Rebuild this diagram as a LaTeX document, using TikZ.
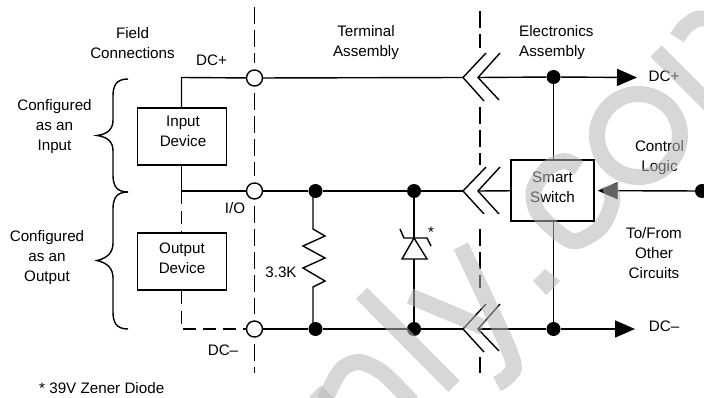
\documentclass[tikz,border=0pt]{standalone}
\usepackage{fontspec}
\setmainfont{Liberation Sans}
\usetikzlibrary{arrows.meta}
\definecolor{wmgray}{gray}{0.714}
\tikzset{
    wire/.style={line width=1.4pt},
    dashwire/.style={line width=1.4pt, dash pattern=on 17pt off 6pt},
    fieldwire/.style={line width=1.4pt, dash pattern=on 13pt off 7pt},
    term/.style={circle, draw, line width=1.4pt, fill=white, minimum size=16pt, inner sep=0pt},
    jdot/.style={circle, fill=black, minimum size=14pt, inner sep=0pt},
    devbox/.style={draw, line width=1.4pt, minimum width=89pt, minimum height=57pt, inner sep=0pt},
    txt/.style={align=center, inner sep=0pt, font=\fontsize{15.2}{20}\selectfont},
    bigtip/.style={-{Triangle[length=20pt,width=17pt]}},
    wmark/.style={line width=16pt, draw=wmgray, opacity=0.55}
}
\begin{document}
\begin{tikzpicture}[x=1pt, y=-1pt]
    \useasboundingbox (0, 0) rectangle (704, 398);
    \node[term] (t1) at (254.5, 78) {};
    \node[term] (t2) at (254.5, 191) {};
    \node[term] (t3) at (254.5, 329) {};
    \node[jdot] (a1) at (553.5, 77) {};
    \node[jdot] (b1) at (315.5, 191) {};
    \node[jdot] (b2) at (414, 191) {};
    \node[jdot] (b3) at (702, 191) {};
    \node[jdot] (c1) at (315.5, 329) {};
    \node[jdot] (c2) at (414, 329) {};
    \node[jdot] (c3) at (553.5, 329) {};
    \node[devbox] (input) at (181.75, 136.5) {};
    \node[devbox] (output) at (181.75, 261.5) {};
    \node[draw, line width=1.4pt, minimum width=83pt, minimum height=61pt, inner sep=0pt] (smart) at (552.5, 190.5) {};
    \coordinate (p1) at (181.5, 77.5);
    \coordinate (p2) at (181.5, 191);
    \coordinate (p3) at (181.5, 329);
    \coordinate (top1) at (254.5, 7);
    \coordinate (bot1) at (254.5, 373);
    \coordinate (u1) at (463, 77.5);
    \coordinate (u2) at (478, 77.5);
    \coordinate (v1) at (463, 191);
    \coordinate (v2) at (478, 191);
    \coordinate (w1) at (463, 329);
    \coordinate (w2) at (478, 329);
    \coordinate (aend) at (637, 77.5);
    \coordinate (cend) at (635, 329);
    \draw [dashwire, shorten >=6pt] (top1) to (t1);
    \draw [dashwire, shorten <=6pt, shorten >=6pt] (t1) to (t2);
    \draw [dashwire, shorten <=6pt, shorten >=6pt] (t2) to (t3);
    \draw [dashwire, shorten <=6pt] (t3) to (bot1);
    \draw [dashwire] (480, 11) to (480, 48);
    \draw [dashwire] (480, 107) to (480, 165);
    \draw [dashwire] (480, 229) to (480, 288);
    \draw [dashwire] (480, 357) to (480, 373);
    \draw [wire] (input.north -| p1) to (p1) to (t1);
    \draw [wire] (input.south -| p1) to (p2) to (t2);
    \draw [fieldwire] (p2) to (output.north -| p1);
    \draw [fieldwire] (output.south -| p1) to (p3) to (t3);
    \draw [wire] (t1) to (u1);
    \draw [wire] (t2) to (b1);
    \draw [wire] (b1) to (b2);
    \draw [wire] (b2) to (v1);
    \draw [wire] (t3) to (c1);
    \draw [wire] (c1) to (c2);
    \draw [wire] (c2) to (w1);
    \draw [wire] (486, 53) -- (u1) -- (484, 101);
    \draw [wire] (500, 53) -- (u2) -- (499, 100);
    \draw [wire] (486, 167) -- (v1) -- (484, 214);
    \draw [wire] (500, 167) -- (v2) -- (499, 214);
    \draw [wire] (486, 304) -- (w1) -- (484, 352);
    \draw [wire] (500, 304) -- (w2) -- (499, 351);
    \draw [wire] (u2) to (a1);
    \draw [wire, bigtip] (a1) to (aend);
    \draw [wire] (a1) to (smart.north -| a1);
    \draw [wire] (smart.south -| c3) to (c3);
    \draw [wire] (v2) to (smart);
    \draw [wire, bigtip, shorten >=3pt] (b3) to (smart);
    \draw [wire] (w2) to (c3);
    \draw [wire, bigtip] (c3) to (cend);
    \draw [wire, line join=miter] (313, 191) -- (313, 229) -- (325, 236) -- (303, 246) -- (325, 258) -- (303, 268) -- (325, 281) -- (313, 287) -- (313, 329);
    \draw [wire] (b2) to (414, 238);
    \draw [wire] (414, 259) to (c2);
    \draw [wire] (400, 229) -- (404, 238) -- (427, 238) -- (431, 246);
    \draw [wire] (414, 238) -- (402, 259) -- (427, 259) -- cycle;
    \draw [wire] (128, 79) .. controls (116, 79) and (113, 86) .. (113, 96) -- (113, 120) .. controls (113, 129) and (108, 134) .. (97, 135.5) .. controls (108, 137) and (113, 142) .. (113, 151) -- (113, 175) .. controls (113, 185) and (116, 192) .. (128, 192);
    \draw [wire] (128, 192) .. controls (116, 192) and (113, 199) .. (113, 209) -- (113, 243) .. controls (113, 252) and (108, 258) .. (97, 260.5) .. controls (108, 263) and (113, 269) .. (113, 278) -- (113, 312) .. controls (113, 322) and (116, 329) .. (128, 329);
    \node[txt] (field) at (132.5, 43) {Field\\Connections};
    \node[txt] (term) at (366, 43) {Terminal\\Assembly};
    \node[txt, anchor=west, align=left] (elec) at (519, 43) {Electronics\\Assembly};
    \node[txt] (dcpa) at (211.5, 60) {DC+};
    \node[txt] (dcpb) at (664, 76) {DC+};
    \node[txt] (dcma) at (223, 350) {DC--};
    \node[txt] (dcmb) at (664, 326) {DC--};
    \node[txt] (io) at (235, 208) {I/O};
    \node[txt] (res) at (281, 272) {3.3K};
    \node[txt] (cfgin) at (54.5, 127) {Configured\\as an\\Input};
    \node[txt] (cfgout) at (47, 257.5) {Configured\\as an\\Output};
    \node[txt] (intxt) at (183, 131) {Input\\Device};
    \node[txt] (outtxt) at (182, 258.7) {Output\\Device};
    \node[txt] (smtxt) at (552.5, 187) {Smart\\Switch};
    \node[txt] (ctrl) at (659.5, 158) {Control\\Logic};
    \node[txt] (other) at (654, 253.5) {To/From\\Other\\Circuits};
    \node[txt] (star) at (431, 232) {*};
    \node[txt, anchor=west] (zener) at (39, 388) {* 39V Zener Diode};
    \begin{scope}
        \clip (0, 0) rectangle (704, 398);
        \draw [wmark] (361.7, 293.3) -- (454, 386.3);
        \draw [wmark] (410, 296) -- (483, 327);
        \draw [wmark] plot [smooth] coordinates {(461, 246) (511, 355) (509, 375) (497, 384)};
        \fill [wmgray, opacity=0.55] (545, 269) -- (560, 281) -- (546, 295) -- (533, 281) -- cycle;
        \draw [wmark] plot [smooth] coordinates {(579, 168) (565, 161) (548, 168) (534, 190) (539, 214) (572, 241) (600, 228) (612, 203) (610, 185)};
        \draw [wmark] (638.5, 135.5) circle [radius=41.5];
        \draw [wmark] (656, 51) -- (714, 109);
        \draw [wmark] plot [smooth] coordinates {(677, 38) (685, 27) (697, 19) (712, 19)};
        \draw [wmark] (315, 391) -- (330, 406);
        \draw [wmark] plot [smooth] coordinates {(325, 400) (333, 383) (343, 368) (360, 362) (383, 373) (412, 402)};
    \end{scope}
\end{tikzpicture}
\end{document}
